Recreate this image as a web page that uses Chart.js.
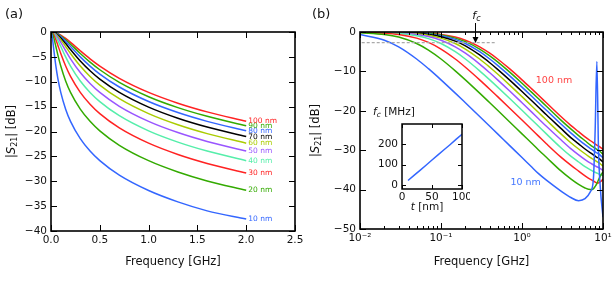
<!DOCTYPE html>
<html>
<head>
<meta charset="utf-8">
<script src="https://cdn.jsdelivr.net/npm/chart.js@4.4.1/dist/chart.umd.min.js"></script>
<style>
  body { margin: 0; background: #fff; }
  #wrap { position: relative; width: 616px; height: 282px; overflow: hidden; }
  canvas { position: absolute; }
</style>
</head>
<body>
<div id="wrap">
  <canvas id="left" width="312" height="282" style="left:0;top:0"></canvas>
  <canvas id="right" width="316" height="282" style="left:300px;top:0"></canvas>
  <canvas id="inset" width="105" height="112" style="left:365px;top:104px"></canvas>
</div>
<script>
// frequencies in GHz (left panel uses <= 2 GHz, right panel uses > 0)
const freq = [0, 0.01, 0.02, 0.03, 0.05, 0.07, 0.1, 0.15, 0.2, 0.3, 0.4, 0.5, 0.7, 1.0, 1.3, 1.6, 2.0,
  3, 4, 5, 6, 7, 7.6, 8, 8.4, 8.8, 9.3, 10];

// |S21| in dB for each film thickness
const s10 = [0, -0.62, -2.08, -3.77, -6.85, -9.31, -12.14, -15.51, -17.96, -21.44, -23.93, -25.86, -28.78, -31.87, -34.15, -35.95, -37.6,
  -40.3, -42.0, -42.8, -42.3, -40.5, -37.5, -25.0, -7.5, -30.0, -40.0, -47.0];
const s20 = [0, -0.16, -0.62, -1.29, -2.92, -4.60, -6.85, -9.85, -12.14, -15.51, -17.96, -19.87, -22.77, -25.86, -28.13, -29.93, -31.8,
  -35.2, -37.3, -38.7, -39.6, -40.0, -39.8, -39.2, -38.5, -37.5, -36.5, -35.5];
const s30 = [0, -0.07, -0.29, -0.62, -1.55, -2.64, -4.33, -6.85, -8.94, -12.14, -14.52, -16.41, -19.28, -22.35, -24.62, -26.42, -28.35,
  -31.7, -33.8, -35.3, -36.5, -37.4, -37.8, -38.1, -38.3, -38.3, -38.0, -37.3];
const s40 = [0, -0.04, -0.16, -0.36, -0.94, -1.68, -2.92, -5.00, -6.85, -9.85, -12.14, -13.98, -16.82, -19.87, -22.13, -23.93, -25.86,
  -29.3, -31.5, -33.0, -34.2, -35.0, -35.4, -35.6, -35.8, -36.0, -36.2, -36.5];
const s50 = [0, -0.03, -0.11, -0.23, -0.62, -1.14, -2.08, -3.77, -5.39, -8.15, -10.35, -12.14, -14.93, -17.96, -20.21, -22.00, -23.93,
  -27.3, -29.6, -31.2, -32.4, -33.3, -33.7, -34.0, -34.2, -34.4, -34.7, -35.2];
const s60 = [0, -0.02, -0.07, -0.16, -0.44, -0.83, -1.55, -2.92, -4.33, -6.85, -8.94, -10.67, -13.41, -16.41, -18.65, -20.43, -22.35,
  -25.8, -28.1, -29.7, -30.9, -31.9, -32.3, -32.6, -32.9, -33.1, -33.5, -34.0];
const s70 = [0, -0.01, -0.05, -0.12, -0.33, -0.62, -1.19, -2.32, -3.53, -5.83, -7.80, -9.47, -12.14, -15.10, -17.33, -19.10, -21.02,
  -24.4, -26.8, -28.4, -29.7, -30.7, -31.2, -31.5, -31.8, -32.0, -32.4, -33.0];
const s80 = [0, -0.01, -0.04, -0.09, -0.25, -0.48, -0.94, -1.88, -2.92, -5.00, -6.85, -8.46, -11.06, -13.98, -16.19, -17.96, -19.87,
  -23.3, -25.6, -27.3, -28.6, -29.6, -30.1, -30.4, -30.7, -30.9, -31.3, -31.9];
const s90 = [0, -0.01, -0.03, -0.07, -0.20, -0.39, -0.76, -1.55, -2.45, -4.33, -6.06, -7.59, -10.13, -13.01, -15.20, -16.95, -18.86,
  -22.3, -24.6, -26.3, -27.6, -28.7, -29.2, -29.5, -29.8, -30.0, -30.4, -31.0];
const s100 = [0, -0.01, -0.03, -0.06, -0.16, -0.32, -0.62, -1.29, -2.08, -3.77, -5.39, -6.85, -9.31, -12.14, -14.31, -16.06, -17.96,
  -21.4, -23.7, -25.3, -26.6, -27.6, -28.1, -28.4, -28.7, -28.9, -29.3, -29.8];

const thickness = ['10 nm', '20 nm', '30 nm', '40 nm', '50 nm', '60 nm', '70 nm', '80 nm', '90 nm', '100 nm'];
const colours = ['#3366ff', '#33aa00', '#ff2222', '#55eeaa', '#9955ff', '#aacc00', '#000000', '#3366ff', '#33aa00', '#ff2222'];
const series = [s10, s20, s30, s40, s50, s60, s70, s80, s90, s100];

// inset: cut-off frequency vs thickness
const tNm = [10, 20, 30, 40, 50, 60, 70, 80, 90, 100];
const fcMHz = [22, 47, 72, 97, 123, 148, 173, 198, 224, 249];

// annotations on panel (b)
const halfPower = { from: 0.0105, to: 0.46, db: -2.7 };
const fcMark = { f: 0.263, db: -2.8 };
const rightLabels = [
  { text: '100 nm', f: 1.48, db: -12.4, colour: '#ff4444' },
  { text: '10 nm', f: 0.72, db: -38.1, colour: '#4477ff' }
];

const FONT = '"DejaVu Sans"';
Chart.defaults.font.family = FONT;
Chart.defaults.color = '#111';

const sup = { '-': '\u207b', '0': '\u2070', '1': '\u00b9', '2': '\u00b2' };
const minus = v => (v < 0 ? '\u2212' + Math.abs(v) : String(v));

function rich(ctx, parts, x, y, align) {
  let w = 0;
  parts.forEach(p => { ctx.font = p[1]; w += ctx.measureText(p[0]).width; });
  let cx = align === 'center' ? x - w / 2 : x;
  ctx.textAlign = 'left';
  parts.forEach(p => {
    ctx.font = p[1];
    ctx.fillText(p[0], cx, y + (p[2] || 0));
    cx += ctx.measureText(p[0]).width;
  });
}

const s21Title = [
  ['|', '11.5px ' + FONT],
  ['S', 'italic 11.5px ' + FONT],
  ['21', '8px ' + FONT, 3],
  ['| [dB]', '11.5px ' + FONT]
];

/* frame, inward ticks and texts */
const frame = {
  id: 'frame',
  afterDraw(chart, args, o) {
    const { ctx, chartArea: a } = chart;
    const xs = chart.scales.x, ys = chart.scales.y;
    ctx.save();
    ctx.strokeStyle = '#000';
    ctx.lineWidth = 1;
    ctx.beginPath();
    xs.ticks.forEach(t => {
      const p = Math.round(xs.getPixelForValue(t.value)) + 0.5;
      ctx.moveTo(p, a.bottom); ctx.lineTo(p, a.bottom - o.len);
      ctx.moveTo(p, a.top); ctx.lineTo(p, a.top + o.len);
    });
    (o.minor || []).forEach(v => {
      const p = Math.round(xs.getPixelForValue(v)) + 0.5;
      ctx.moveTo(p, a.bottom); ctx.lineTo(p, a.bottom - o.len / 2);
      ctx.moveTo(p, a.top); ctx.lineTo(p, a.top + o.len / 2);
    });
    ys.ticks.forEach(t => {
      const p = Math.round(ys.getPixelForValue(t.value)) + 0.5;
      ctx.moveTo(a.left, p); ctx.lineTo(a.left + o.len, p);
      ctx.moveTo(a.right, p); ctx.lineTo(a.right - o.len, p);
    });
    ctx.stroke();
    ctx.lineWidth = o.width;
    ctx.strokeRect(a.left, a.top, a.width, a.height);

    ctx.fillStyle = '#111';
    ctx.textBaseline = 'middle';
    if (o.tag) {
      ctx.font = '13px ' + FONT;
      ctx.fillText(o.tag, o.tagX, 15);
    }
    if (o.yTitleX) {
      ctx.save();
      ctx.translate(o.yTitleX, (a.top + a.bottom) / 2);
      ctx.rotate(-Math.PI / 2);
      rich(ctx, s21Title, 0, 0, 'center');
      ctx.restore();
    }
    if (o.extra) o.extra(chart, ctx, a, xs, ys);
    ctx.restore();
  }
};

function axisX(opts) {
  return Object.assign({
    grid: { display: false, drawTicks: false },
    border: { display: false },
    ticks: { font: { size: 10.5 }, color: '#111', padding: 3, autoSkip: false, maxRotation: 0, minRotation: 0 },
    title: { display: true, text: 'Frequency [GHz]', font: { size: 11.5 }, color: '#111', padding: { top: 0, bottom: 13 } }
  }, opts);
}
function axisY(opts) {
  return Object.assign({
    grid: { display: false, drawTicks: false },
    border: { display: false },
    ticks: { font: { size: 10.5 }, color: '#111', padding: 4, autoSkip: false, callback: v => minus(v) }
  }, opts);
}
const fixTicks = vals => s => { s.ticks = vals.map(v => ({ value: v })); };
const noPad = s => { s.paddingLeft = 0; s.paddingRight = 0; s.paddingTop = 0; s.paddingBottom = 0; };

/* (a) linear frequency axis */
const leftSets = series.map((s, i) => ({
  label: thickness[i],
  data: freq.map((f, k) => ({ x: f, y: s[k] })).filter(p => p.x <= 2.0),
  borderColor: colours[i],
  borderWidth: 1.5,
  pointRadius: 0,
  cubicInterpolationMode: 'monotone',
  fill: false
}));

new Chart(document.getElementById('left'), {
  type: 'line',
  data: { datasets: leftSets },
  options: {
    responsive: false,
    animation: false,
    layout: { padding: { top: 32, right: 17, left: 0, bottom: 0 } },
    plugins: {
      legend: { display: false },
      tooltip: { enabled: false },
      frame: {
        len: 6, width: 1.6, tag: '(a)', tagX: 5, yTitleX: 12,
        extra(chart, ctx, a, xs, ys) {
          ctx.font = '7.5px ' + FONT;
          ctx.textAlign = 'left';
          const x2 = xs.getPixelForValue(2.0) + 2;
          series.forEach((s, i) => {
            const last = s[freq.indexOf(2.0)];
            ctx.fillStyle = colours[i];
            ctx.fillText(thickness[i], x2, ys.getPixelForValue(last));
          });
        }
      }
    },
    scales: {
      x: axisX({
        type: 'linear', min: 0, max: 2.5,
        afterBuildTicks: fixTicks([0, 0.5, 1, 1.5, 2, 2.5]),
        afterFit: s => { s.height = 51; noPad(s); },
        ticks: { font: { size: 10.5 }, color: '#111', padding: 3, autoSkip: false, maxRotation: 0, minRotation: 0,
          callback: v => Number(v).toFixed(1) }
      }),
      y: axisY({
        min: -40, max: 0,
        afterBuildTicks: fixTicks([0, -5, -10, -15, -20, -25, -30, -35, -40]),
        afterFit: s => { s.width = 51; noPad(s); }
      })
    }
  },
  plugins: [frame]
});

/* (b) logarithmic frequency axis */
const minorLog = [];
[-2, -1, 0].forEach(e => { for (let m = 2; m <= 9; m++) minorLog.push(m * Math.pow(10, e)); });

const rightSets = series.map((s, i) => ({
  label: thickness[i],
  data: freq.map((f, k) => ({ x: f, y: s[k] })).filter(p => p.x > 0),
  borderColor: colours[i],
  borderWidth: 1.5,
  pointRadius: 0,
  cubicInterpolationMode: 'monotone',
  fill: false
}));
rightSets.unshift({
  label: '-3 dB',
  data: [{ x: halfPower.from, y: halfPower.db }, { x: halfPower.to, y: halfPower.db }],
  borderColor: '#aaaaaa',
  borderWidth: 1.2,
  borderDash: [3, 2],
  pointRadius: 0
});

new Chart(document.getElementById('right'), {
  type: 'line',
  data: { datasets: rightSets },
  options: {
    responsive: false,
    animation: false,
    layout: { padding: { top: 32, right: 13, left: 0, bottom: 0 } },
    plugins: {
      legend: { display: false },
      tooltip: { enabled: false },
      frame: {
        len: 6, width: 1.6, tag: '(b)', tagX: 12, yTitleX: 16, minor: minorLog,
        extra(chart, ctx, a, xs, ys) {
          // labels
          ctx.font = '9.5px ' + FONT;
          ctx.textAlign = 'left';
          rightLabels.forEach(l => {
            ctx.fillStyle = l.colour;
            ctx.fillText(l.text, xs.getPixelForValue(l.f), ys.getPixelForValue(l.db));
          });
          // f_c arrow
          const px = Math.round(xs.getPixelForValue(fcMark.f)) + 0.5;
          const tip = ys.getPixelForValue(fcMark.db);
          ctx.strokeStyle = '#000';
          ctx.fillStyle = '#000';
          ctx.lineWidth = 1;
          ctx.beginPath();
          ctx.moveTo(px, a.top - 9);
          ctx.lineTo(px, tip - 4);
          ctx.stroke();
          ctx.beginPath();
          ctx.moveTo(px - 3, tip - 6);
          ctx.lineTo(px + 3, tip - 6);
          ctx.lineTo(px, tip);
          ctx.closePath();
          ctx.fill();
          ctx.fillStyle = '#111';
          rich(ctx, [['f', 'italic 11px ' + FONT], ['c', 'italic 8px ' + FONT, 3]], px + 1, a.top - 16, 'center');
        }
      }
    },
    scales: {
      x: axisX({
        type: 'logarithmic', min: 0.01, max: 10,
        afterBuildTicks: fixTicks([0.01, 0.1, 1, 10]),
        afterFit: s => { s.height = 53; noPad(s); },
        ticks: { font: { size: 10.5 }, color: '#111', padding: 3, autoSkip: false, maxRotation: 0, minRotation: 0,
          callback: v => '10' + String(Math.round(Math.log10(v))).split('').map(c => sup[c]).join('') }
      }),
      y: axisY({
        min: -50, max: 0,
        afterBuildTicks: fixTicks([0, -10, -20, -30, -40, -50]),
        afterFit: s => { s.width = 60; noPad(s); }
      })
    }
  },
  plugins: [frame]
});

/* inset: f_c vs t */
new Chart(document.getElementById('inset'), {
  type: 'line',
  data: {
    datasets: [{
      data: tNm.map((t, i) => ({ x: t, y: fcMHz[i] })),
      borderColor: '#3366ff',
      borderWidth: 1.5,
      pointRadius: 0
    }]
  },
  options: {
    responsive: false,
    animation: false,
    layout: { padding: { top: 20, right: 8, left: 0, bottom: 0 } },
    plugins: {
      legend: { display: false },
      tooltip: { enabled: false },
      frame: {
        len: 4, width: 1.5,
        extra(chart, ctx, a) {
          ctx.fillStyle = '#111';
          rich(ctx, [['f', 'italic 10.5px ' + FONT], ['c', 'italic 7.5px ' + FONT, 3], [' [MHz]', '10.5px ' + FONT]], 8, 8, 'left');
          rich(ctx, [['t', 'italic 10.5px ' + FONT], [' [nm]', '10.5px ' + FONT]], 62, 103, 'center');
        }
      }
    },
    scales: {
      x: {
        type: 'linear', min: 0, max: 100,
        grid: { display: false, drawTicks: false },
        border: { display: false },
        afterBuildTicks: fixTicks([0, 50, 100]),
        afterFit: s => { s.height = 27; noPad(s); },
        ticks: { font: { size: 10.5 }, color: '#111', padding: 2, autoSkip: false, maxRotation: 0, minRotation: 0 }
      },
      y: {
        min: -20, max: 300,
        grid: { display: false, drawTicks: false },
        border: { display: false },
        afterBuildTicks: fixTicks([0, 100, 200]),
        afterFit: s => { s.width = 37; noPad(s); },
        ticks: { font: { size: 10.5 }, color: '#111', padding: 4, autoSkip: false }
      }
    }
  },
  plugins: [frame]
});
</script>
</body>
</html>
